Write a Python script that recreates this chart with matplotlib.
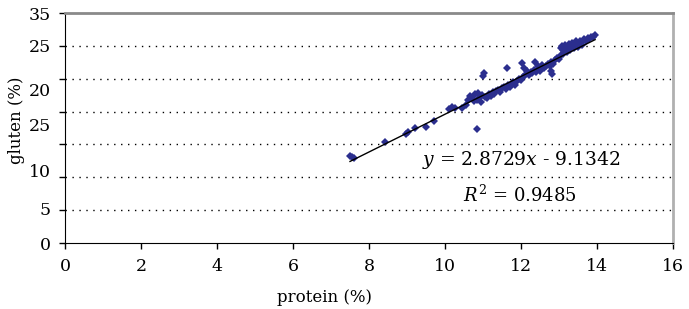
import numpy as np
import matplotlib
matplotlib.use("Agg")
from matplotlib import pyplot as plt

# protein vs gluten (%)
protein = [7.50, 7.60, 7.56, 8.42, 8.98, 9.02, 9.22, 9.50, 9.72,
           10.10, 10.18, 10.25, 10.45, 10.55, 10.60, 10.65, 10.70, 10.75,
           10.80, 10.85, 10.88, 10.92, 10.95, 10.98, 10.83, 11.00, 11.02,
           11.05, 11.10, 11.15, 11.20, 11.25, 11.30, 11.35, 11.40, 11.45,
           11.50, 11.62, 11.55, 11.60, 11.65, 11.70, 11.75, 11.80, 11.85,
           11.90, 11.95, 12.02, 12.08, 12.15, 12.00, 12.05, 12.10, 12.20,
           12.25, 12.30, 12.35, 12.40, 12.45, 12.50, 12.38, 12.45, 12.55,
           12.60, 12.55, 12.65, 12.70, 12.75, 12.80, 12.82, 12.78, 12.85,
           12.90, 12.95, 13.00, 13.05, 13.05, 13.08, 13.10, 13.15, 13.20,
           13.25, 13.30, 13.35, 13.40, 13.45, 13.50, 13.55, 13.60, 13.65,
           13.70, 13.75, 13.80, 13.85, 13.90, 13.95, 13.10, 13.20, 13.30,
           13.40, 13.50, 13.60]
gluten = [13.2, 12.9, 13.1, 15.4, 16.6, 16.9, 17.5, 17.7, 18.5,
          20.4, 20.7, 20.5, 20.6, 21.0, 21.8, 22.3, 22.0, 21.6,
          22.6, 21.8, 22.9, 22.2, 21.5, 22.5, 17.4, 25.4, 25.8,
          22.2, 22.0, 22.6, 22.4, 23.0, 22.7, 23.1, 23.3, 23.0,
          23.6, 26.6, 23.8, 23.5, 24.0, 23.8, 24.2, 24.5, 24.0,
          24.6, 25.0, 27.4, 26.6, 26.2, 24.8, 25.2, 25.5, 25.6,
          26.0, 25.8, 26.3, 26.0, 26.5, 26.2, 27.5, 27.0, 27.1,
          26.6, 26.8, 27.0, 27.3, 26.9, 27.6, 25.7, 26.1, 27.2,
          27.8, 28.2, 28.0, 28.6, 29.6, 30.0, 29.3, 30.2, 29.8,
          30.3, 30.0, 30.5, 30.2, 30.7, 30.4, 30.8, 30.6, 31.0,
          30.8, 31.2, 31.0, 31.4, 31.3, 31.6, 28.8, 29.0, 29.4,
          29.6, 29.8, 30.1]

# linear trend as printed on the chart
slope = 2.8729
intercept = -9.1342
r2 = 0.9485

xticks = [0, 2, 4, 6, 8, 10, 12, 14, 16]
yticks = [0, 5, 10, 15, 20, 25, 30, 35]
# the scan's y labels are misprinted and drift off the gridlines
ylabel_text = ["0", "5", "10", "25", "20", "25", "35"]
ylabel_pos = [0, 5.2, 11.0, 18.0, 23.4, 30.1, 35]

plt.rcParams["font.family"] = "DejaVu Serif"
plt.rcParams["mathtext.fontset"] = "dejavuserif"

fig = plt.figure(figsize=(6.89, 3.09), dpi=100)
ax = fig.add_axes([65/689, 1 - 243/309, 608/689, 230/309])

ax.plot(protein, gluten, "D", color="#2B2E8E", ms=4.4, mew=0)
xfit = np.array([min(protein), max(protein)])
ax.plot(xfit, slope*xfit + intercept, color="black", lw=1.0)

ax.set_xlim(0, 16)
ax.set_ylim(0, 35)
ax.set_xticks(xticks)
ax.yaxis.remove_overlapping_locs = False
ax.set_yticks(yticks)
ax.set_yticklabels([])
ax.set_yticks(ylabel_pos, minor=True)
ax.set_yticklabels(ylabel_text, minor=True)
ax.tick_params(axis="y", which="major", length=4, width=1, direction="out")
ax.tick_params(axis="y", which="minor", length=0, pad=10, labelsize=12.5)
ax.tick_params(axis="x", length=4, width=1, direction="out", pad=7, labelsize=12.5)

for y in yticks[1:-1]:
    ax.axhline(y, color="black", lw=1.0, ls=(0, (1, 4)), zorder=0)

ax.spines["left"].set_color("black")
ax.spines["bottom"].set_color("black")
ax.spines["top"].set_color("#8a8a8a")
ax.spines["right"].set_color("#b0b0b0")
ax.spines["top"].set_linewidth(2)
ax.spines["right"].set_linewidth(2)

ax.set_xlabel("protein (%)", fontsize=12, va="center")
ax.xaxis.set_label_coords(0.426, -0.235)
ax.set_ylabel("gluten (%)", fontsize=12, va="center")
ax.yaxis.set_label_coords(-0.08, 0.535)

ax.text(9.39, 12.6, "$y$ = {:.4f}$x$ - {:.4f}".format(slope, -intercept),
        fontsize=13.5, va="center", ha="left")
ax.text(10.47, 7.3, "$R^2$ = {:.4f}".format(r2), fontsize=13, va="center", ha="left")

fig.savefig("out.png", dpi=100)
